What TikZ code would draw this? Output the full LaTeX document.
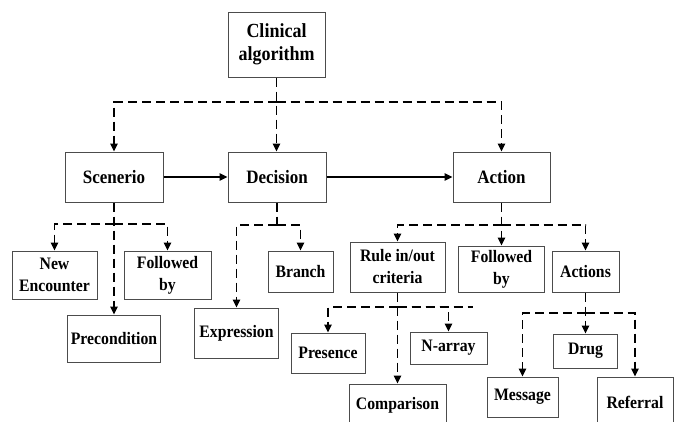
\documentclass[tikz,border=0pt]{standalone}
\usepackage{fontspec}
\setmainfont{Liberation Serif}[FakeStretch=0.9]
\usetikzlibrary{arrows.meta}
\begin{document}
\begin{tikzpicture}[x=1pt,y=-1pt,
  box/.style={draw=black!70,line width=1pt,align=center,inner sep=0pt,
    font=\bfseries\fontsize{17.5}{22}\selectfont},
  big/.style={font=\bfseries\fontsize{18.9}{22}\selectfont},
  sz/.style 2 args={minimum width=#1pt,minimum height=#2pt},
  arr/.style={line width=1.4pt,-{Triangle[length=8pt,width=7.5pt]}},
  dsh/.style={line width=1.4pt,dash pattern=on 9pt off 5pt},
  darr/.style={arr,dsh}]
\useasboundingbox[fill=white] (0,0) rectangle (680,421);

% level 0
\node[box,sz={97}{65},font=\bfseries\fontsize{20}{23.5}\selectfont] (clin) at (276.5,44.5) {Clinical\\algorithm};
% level 1
\node[box,big,sz={98}{50}] (scen) at (114,177) {Scenerio};
\node[box,big,sz={98}{50}] (dec) at (277,177) {Decision};
\node[box,big,sz={97}{50}] (act) at (501.5,177) {Action};
% level 2
\node[box,sz={85}{48}] (newenc) at (54.5,275) {New\\Encounter};
\node[box,sz={87}{48}] (fol1) at (167.5,275) {Followed\\by};
\node[box,sz={93}{47}] (prec) at (114,338.5) {Precondition};
\node[box,sz={65}{41}] (branch) at (300.5,271.5) {Branch};
\node[box,sz={84}{50}] (expr) at (236.5,333) {Expression};
\node[box,sz={95}{50}] (rule) at (397.5,267) {Rule in/out\\criteria};
\node[box,sz={86}{46}] (fol2) at (501.5,269) {Followed\\by};
\node[box,sz={67}{41}] (actions) at (585.5,271.5) {Actions};
% level 3
\node[box,sz={74}{40}] (pres) at (328,353) {Presence};
\node[box,sz={77}{32}] (narr) at (448.5,348) {N-array};
\node[box,sz={97}{42}] (comp) at (397.5,405) {Comparison};
\node[box,sz={64}{34}] (drug) at (585.5,351) {Drug};
\node[box,sz={71}{40}] (msg) at (522.5,397) {Message};
\node[box,sz={76}{50}] (ref) at (635,402) {Referral};

% junctions
\coordinate (j0) at (276.5,102);
\coordinate (j1) at (114,224);
\coordinate (j2) at (277,225);
\coordinate (j3) at (501.5,225);
\coordinate (j4) at (397.5,307);
\coordinate (j4e) at (473,307);
\coordinate (j5) at (585.5,313);

% clinical algorithm
\draw[darr] (clin.south) -- (clin.south |- dec.north);
\draw[darr] (j0) -| (scen);
\draw[darr] (j0) -| (act);
% main flow
\draw[arr] (scen) -- (dec);
\draw[arr] (dec) -- (act);
% scenerio
\draw[darr] (scen.south) -- (scen.south |- prec.north);
\draw[darr] (j1) -| (newenc);
\draw[darr] (j1) -| (fol1);
% decision
\draw[dsh] (dec.south) -- (j2);
\draw[darr] (j2) -| (expr);
\draw[darr] (j2) -| (branch);
% action
\draw[darr] (act.south) -- (act.south |- fol2.north);
\draw[darr] (j3) -| (rule);
\draw[darr] (j3) -| (actions);
% rule in/out
\draw[darr] (rule.south) -- (rule.south |- comp.north);
\draw[darr] (j4) -| (pres);
\draw[darr] (j4) -| (narr);
\draw[dsh] (j4) -- (j4e);
% actions
\draw[darr] (actions.south) -- (actions.south |- drug.north);
\draw[darr] (j5) -| (msg);
\draw[darr] (j5) -| (ref);
\end{tikzpicture}
\end{document}
